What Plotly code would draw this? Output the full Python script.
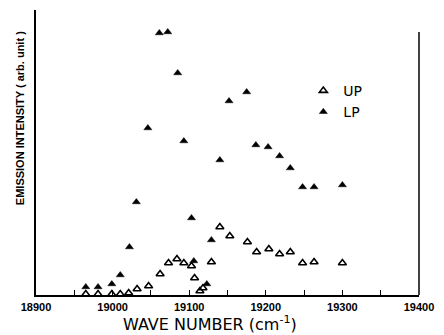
import plotly.graph_objects as go

# Wave numbers (cm^-1) and intensities (arb. unit)
lp_x = [18965, 18981, 18999, 19010, 19022, 19031, 19046, 19061, 19072, 19085,
        19093, 19103, 19106, 19123, 19129, 19140, 19152, 19175, 19187, 19203,
        19218, 19232, 19248, 19263, 19300]
lp_y = [8, 8, 11, 20, 48, 93, 167, 262, 263, 222,
        154, 77, 34, 11, 55, 135, 194, 203, 150, 148,
        139, 127, 108, 108, 110]

up_x = [18965, 18981, 18999, 19010, 19021, 19032, 19047, 19062, 19073, 19084,
        19093, 19103, 19107, 19114, 19118, 19129, 19140, 19153, 19176, 19188,
        19204, 19218, 19232, 19248, 19263, 19300]
up_y = [1, 1, 1, 1, 2, 6, 9, 21, 32, 36,
        32, 29, 17, 4, 7, 33, 68, 59, 53, 43,
        46, 41, 43, 32, 33, 32]

x_tick_vals = [18900, 19000, 19100, 19200, 19300, 19400]
x_tick_text = ["18900", "19000", "19100", "19200", "19300", "19400"]

fig = go.Figure()
fig.add_trace(go.Scatter(
    x=up_x, y=up_y, mode="markers", name="UP",
    marker=dict(symbol="triangle-up-open", size=7, color="black",
                line=dict(color="black", width=1.6)),
))
fig.add_trace(go.Scatter(
    x=lp_x, y=lp_y, mode="markers", name="LP",
    marker=dict(symbol="triangle-up", size=7, color="black",
                line=dict(color="black", width=0.5)),
))

fig.update_layout(
    width=444, height=335,
    margin=dict(l=36, r=21, t=10, b=40),
    paper_bgcolor="white", plot_bgcolor="white",
    font=dict(family="DejaVu Sans", color="black"),
    showlegend=True,
    legend=dict(x=0.698, y=0.772, xanchor="left", yanchor="top",
                bgcolor="rgba(0,0,0,0)", font=dict(size=14, family="DejaVu Sans"),
                itemsizing="trace", tracegroupgap=0),
    xaxis=dict(
        range=[18900, 19400], showgrid=False, zeroline=False,
        showline=True, linecolor="black", linewidth=1.5, mirror=False,
        tickmode="array", tickvals=x_tick_vals, ticktext=x_tick_text,
        ticks="inside", ticklen=5, tickcolor="black", tickwidth=1,
        minor=dict(dtick=50, tick0=18900, ticks="inside", ticklen=5,
                   tickcolor="black", tickwidth=1, showgrid=False),
        tickfont=dict(size=11, family="Liberation Sans", color="black", weight="bold"),
        ticklabelstandoff=1,
    ),
    yaxis=dict(
        range=[0, 285], showgrid=False, zeroline=False,
        showline=True, linecolor="black", linewidth=1.5, mirror=False,
        showticklabels=False, ticks="",
    ),
    annotations=[
        dict(text="WAVE NUMBER (cm<sup>-1</sup>)", xref="paper", yref="paper",
             x=(212 - 36) / 387, y=-(323 - 295) / 285, xanchor="center", yanchor="middle",
             showarrow=False, font=dict(size=16, family="DejaVu Sans")),
        dict(text="<b>EMISSION INTENSITY ( arb. unit )</b>", xref="paper", yref="paper",
             x=(20 - 36) / 387, y=(295 - 118) / 285, xanchor="center", yanchor="middle",
             textangle=-90, showarrow=False, font=dict(size=11, family="Liberation Sans")),
    ],
    shapes=[
        dict(type="line", xref="paper", yref="paper", x0=1, x1=1,
             y0=0, y1=(295 - 32) / 285, line=dict(color="black", width=1.5)),
    ],
)

fig.write_html("out.html", config={"displayModeBar": False},
               post_script="document.body.style.margin='0';document.body.style.overflow='hidden';")
